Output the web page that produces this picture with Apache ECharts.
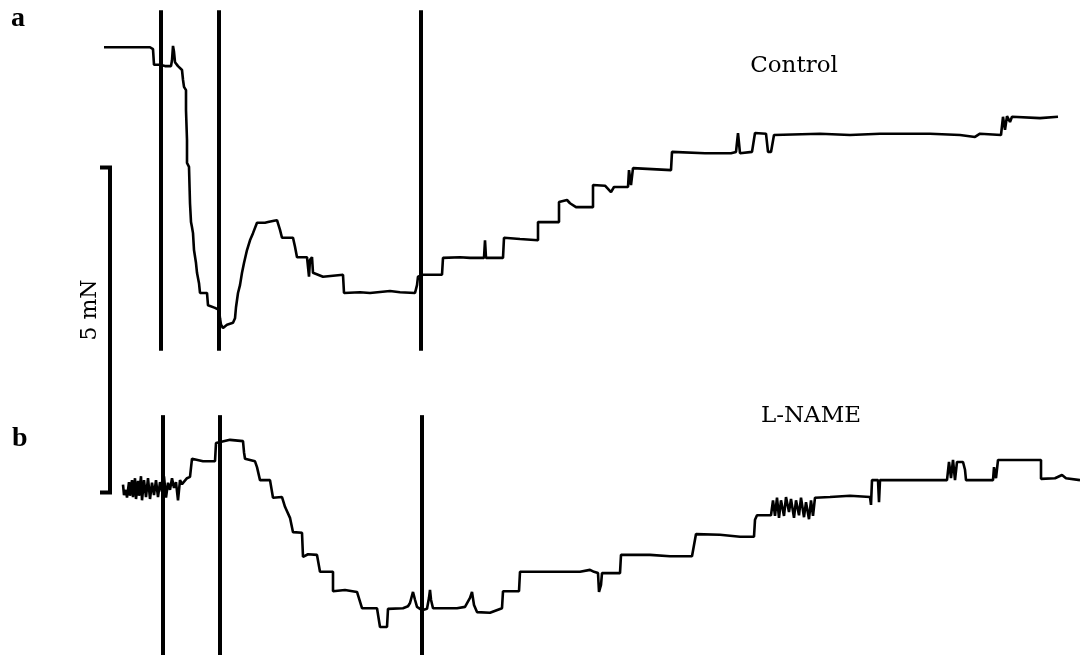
<!DOCTYPE html>
<html>
<head>
<meta charset="utf-8">
<script src="https://cdn.jsdelivr.net/npm/echarts@6/dist/echarts.min.js"></script>
<style>
  html, body { margin: 0; padding: 0; background: #fff; }
  #chart { width: 1080px; height: 655px; }
</style>
</head>
<body>
<div id="chart"></div>
<script>
// Time (arbitrary units) and force (mN) readings, trace a: Control
const controlTrace = [
  [104,9.35],[118,9.35],[119,9.38],[121,9.35],[135,9.35],[136,9.34],[140,9.35],[150,9.35],[152,9.32],[153,9.32],
  [154,9.08],[160,9.08],[165,9.06],[171,9.06],[172,9.15],[173,9.37],[174,9.28],[175,9.12],[176,9.09],[178,9.06],
  [180,9.05],[182,9.00],[183,8.85],[184,8.74],[186,8.69],[186,8.38],[187,7.92],[187,7.57],[189,7.51],[190,6.95],
  [191,6.66],[192,6.58],[193,6.49],[194,6.23],[196,6.03],[197,5.88],[199,5.72],[200,5.57],[207,5.57],[208,5.38],
  [215,5.34],[219,5.31],[220,5.18],[221,5.08],[223,5.03],[227,5.08],[233,5.11],[235,5.18],[236,5.35],[238,5.57],
  [240,5.69],[242,5.88],[244,6.03],[247,6.23],[250,6.38],[253,6.49],[257,6.65],[265,6.65],[268,6.66],[270,6.63],
  [274,6.68],[277,6.69],[279,6.66],[280,6.54],[282,6.42],[293,6.42],[295,6.28],[297,6.12],[307,6.12],[308,6.09],
  [309,5.82],[310,6.08],[312,6.12],[313,5.88],[323,5.82],[343,5.85],[344,5.57],[360,5.58],[370,5.57],[390,5.60],
  [400,5.58],[415,5.57],[417,5.69],[418,5.82],[423,5.85],[430,5.85],[432,5.82],[442,5.85],[443,6.11],[460,6.12],
  [470,6.11],[484,6.11],[485,6.38],[486,6.11],[503,6.11],[504,6.42],[520,6.40],[538,6.38],[538,6.66],[559,6.66],
  [559,6.97],[567,7.00],[570,6.95],[576,6.89],[593,6.89],[593,7.23],[605,7.22],[611,7.12],[614,7.20],[628,7.20],
  [629,7.46],[631,7.23],[633,7.49],[635,7.46],[671,7.46],[672,7.74],[705,7.72],[731,7.72],[736,7.74],[738,8.03],
  [740,7.72],[752,7.74],[755,8.03],[766,8.02],[768,7.74],[771,7.74],[774,8.00],[820,8.02],[850,8.00],[880,8.02],
  [930,8.02],[960,8.00],[975,7.97],[980,8.02],[1001,8.00],[1003,8.28],[1005,8.08],[1007,8.29],[1010,8.20],[1012,8.28],
  [1040,8.26],[1058,8.28]
];

// Trace b: L-NAME
const lnameTrace = [
  [123,2.62],[124,2.46],[126,2.54],[127,2.42],[129,2.66],[130,2.45],[132,2.69],[133,2.43],[135,2.72],[136,2.40],
  [138,2.68],[139,2.45],[141,2.75],[142,2.38],[144,2.69],[146,2.43],[148,2.72],[150,2.40],[152,2.65],[154,2.46],
  [156,2.69],[158,2.43],[160,2.66],[162,2.51],[164,2.75],[166,2.42],[168,2.65],[170,2.54],[172,2.72],[174,2.57],
  [176,2.66],[178,2.38],[180,2.69],[182,2.63],[183,2.66],[187,2.72],[190,2.74],[192,3.02],[203,2.98],[215,2.98],
  [216,3.26],[230,3.31],[243,3.29],[244,3.12],[245,3.02],[255,2.98],[257,2.89],[260,2.69],[270,2.69],[273,2.42],
  [282,2.43],[285,2.28],[290,2.11],[293,1.89],[302,1.88],[303,1.51],[308,1.55],[317,1.54],[320,1.28],[333,1.28],
  [333,0.98],[345,1.00],[357,0.97],[362,0.72],[377,0.72],[380,0.43],[387,0.43],[388,0.71],[403,0.72],[408,0.75],
  [410,0.80],[413,0.97],[415,0.85],[417,0.74],[422,0.69],[427,0.71],[429,0.88],[430,1.00],[431,0.85],[433,0.72],
  [457,0.72],[465,0.74],[470,0.88],[472,0.97],[474,0.77],[477,0.66],[490,0.65],[502,0.72],[503,0.98],[519,0.98],
  [520,1.28],[560,1.28],[580,1.28],[590,1.31],[594,1.28],[598,1.26],[599,0.97],[601,1.08],[602,1.26],[620,1.26],
  [621,1.54],[650,1.54],[670,1.52],[692,1.52],[696,1.86],[720,1.85],[740,1.82],[754,1.82],[755,2.08],[757,2.15],
  [771,2.15],[773,2.38],[775,2.14],[777,2.42],[779,2.11],[781,2.38],[784,2.14],[786,2.43],[789,2.20],[791,2.40],
  [794,2.11],[796,2.38],[799,2.15],[801,2.42],[804,2.12],[806,2.35],[809,2.09],[811,2.38],[813,2.14],[815,2.42],
  [830,2.43],[850,2.45],[870,2.43],[871,2.31],[872,2.69],[878,2.69],[879,2.35],[880,2.69],[900,2.69],[947,2.69],
  [949,2.97],[951,2.72],[953,3.00],[955,2.69],[957,2.97],[963,2.97],[965,2.85],[966,2.69],[993,2.69],[994,2.89],
  [996,2.72],[998,3.00],[1041,3.00],[1041,2.71],[1055,2.72],[1062,2.77],[1066,2.72],[1080,2.69]
];

// Stimulus markers (time) and their force extents (mN)
const markersA = [161, 219, 421];
const markersB = [163, 220, 422];
const markerRangeA = [4.68, 9.92];
const markerRangeB = [0, 3.69];

// Scale bar: 5 mN
const scaleBarRange = [2.5, 7.5];
const scaleBarLabel = '5 mN';
const panelLabels = ['a', 'b'];
const traceNames = ['Control', 'L-NAME'];

const scaleBarT = 110, scaleTickT = 100;

const chart = echarts.init(document.getElementById('chart'), null, { renderer: 'canvas' });

const lineBase = { type: 'line', symbol: 'none', silent: true, animation: false, clip: false };

const series = [
  Object.assign({}, lineBase, { name: traceNames[0], data: controlTrace, lineStyle: { color: '#000', width: 2.6 } }),
  Object.assign({}, lineBase, { name: traceNames[1], data: lnameTrace, lineStyle: { color: '#000', width: 2.6 } })
];
markersA.forEach(t => series.push(Object.assign({}, lineBase, {
  data: [[t, markerRangeA[0]], [t, markerRangeA[1]]], lineStyle: { color: '#000', width: 4, cap: 'butt' }
})));
markersB.forEach(t => series.push(Object.assign({}, lineBase, {
  data: [[t, markerRangeB[0]], [t, markerRangeB[1]]], lineStyle: { color: '#000', width: 4, cap: 'butt' }
})));
series.push(Object.assign({}, lineBase, {
  data: [[scaleTickT, scaleBarRange[1]], [scaleBarT, scaleBarRange[1]], [scaleBarT, scaleBarRange[0]], [scaleTickT, scaleBarRange[0]]],
  lineStyle: { color: '#000', width: 4, join: 'miter', cap: 'butt' }
}));

const serif = '"DejaVu Serif", serif';
chart.setOption({
  backgroundColor: '#fff',
  animation: false,
  grid: { left: 0, right: 0, top: 5, bottom: 0 },
  xAxis: { type: 'value', min: 0, max: 1080, show: false },
  yAxis: { type: 'value', min: 0, max: 10, show: false },
  series: series,
  graphic: [
    { type: 'text', x: 11, y: 19, style: { text: panelLabels[0], font: 'bold 28px "Liberation Serif", serif', fill: '#000', verticalAlign: 'middle' } },
    { type: 'text', x: 12, y: 439, style: { text: panelLabels[1], font: 'bold 28px "Liberation Serif", serif', fill: '#000', verticalAlign: 'middle' } },
    { type: 'text', x: 794, y: 66, style: { text: traceNames[0], font: '23px ' + serif, fill: '#000', align: 'center', verticalAlign: 'middle' } },
    { type: 'text', x: 811, y: 416, style: { text: traceNames[1], font: '23px ' + serif, fill: '#000', align: 'center', verticalAlign: 'middle' } },
    { type: 'text', x: 90, y: 310, rotation: Math.PI / 2, style: { text: scaleBarLabel, font: '22px ' + serif, fill: '#000', align: 'center', verticalAlign: 'middle' } }
  ]
});
</script>
</body>
</html>
